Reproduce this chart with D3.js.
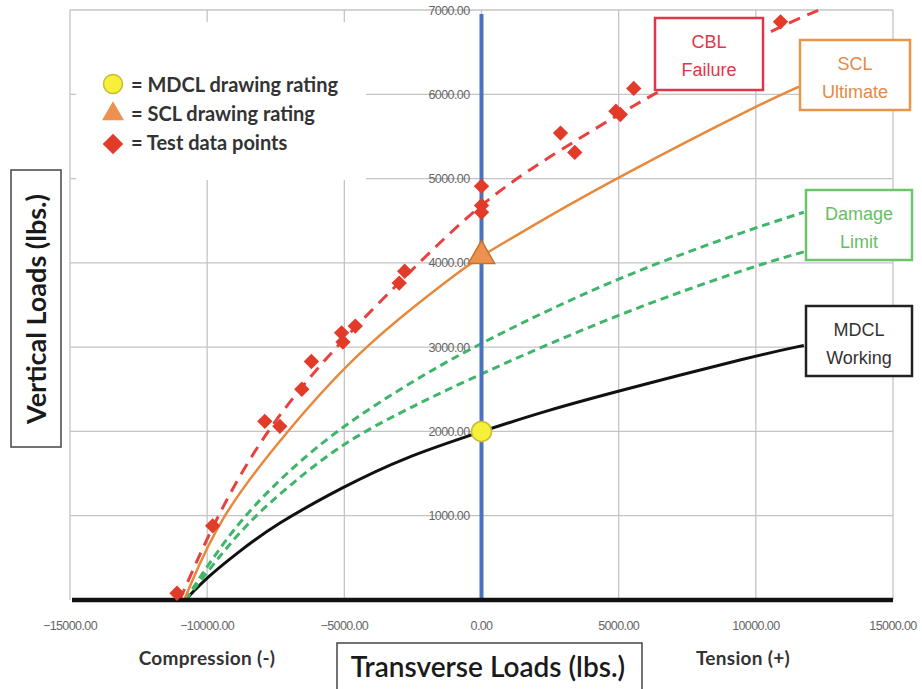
<!DOCTYPE html>
<html><head><meta charset="utf-8">
<script src="https://cdn.jsdelivr.net/npm/d3@7/dist/d3.min.js"></script>
<style>body{margin:0;background:#fff}svg{display:block}</style>
</head><body>
<svg id="c" width="922" height="689"></svg>
<script>
// ---- data ----
const xTicks = [-15000, -10000, -5000, 0, 5000, 10000, 15000];
const yTicks = [1000, 2000, 3000, 4000, 5000, 6000, 7000];

const cblX = [-11000, -9650, -7900, -5500, -2600, 0, 2370, 5000, 6000, 8500, 10850, 12300];
const cblY = [0, 1000, 2000, 2950, 3900, 4720, 5240, 5760, 5950, 6400, 6800, 7000];

const sclX = [-10840, -9540, -7100, -4400, -400, 0, 2370, 5000, 10000, 11580];
const sclY = [0, 1000, 2000, 3000, 4000, 4080, 4540, 5020, 5860, 6090];

const dmgUpX = [-10800, -10000, -8800, -7000, -5000, -2500, 0, 5000, 10000, 11750];
const dmgUpY = [0, 400, 950, 1550, 2080, 2600, 3060, 3840, 4420, 4600];

const dmgLoX = [-10800, -10000, -8600, -7000, -5000, -2500, 0, 5000, 10000, 11750];
const dmgLoY = [0, 330, 900, 1360, 1880, 2300, 2690, 3400, 3970, 4130];

const mdclX = [-10800, -10000, -8900, -7500, -5000, -2900, 0, 2400, 5000, 10000, 11750];
const mdclY = [0, 270, 560, 900, 1350, 1680, 2000, 2250, 2480, 2900, 3020];

const testX = [-11100, -9800, -7900, -7350, -6550, -6200, -5100, -5050, -4600, -3000, -2800, 0, 0, 0, 2880, 3400, 4900, 5060, 5550, 10900];
const testY = [80, 880, 2120, 2060, 2500, 2830, 3170, 3060, 3250, 3760, 3900, 4910, 4680, 4600, 5540, 5310, 5800, 5760, 6070, 6860];

const mdclRating = [0, 2000];
const sclRating = [0, 4060];

const legendLabels = ["= MDCL drawing rating", "= SCL drawing rating", "= Test data points"];
const xTitle = "Transverse Loads (lbs.)";
const yTitle = "Vertical Loads (lbs.)";

// ---- drawing ----
const svg = d3.select("#c");
const x = d3.scaleLinear().domain([-15000, 15000]).range([70, 893]);
const y = d3.scaleLinear().domain([0, 7000]).range([600, 10]);
const gridC = "#c4c4c4";

// gridlines
svg.append("g").selectAll("line").data(yTicks).join("line")
  .attr("x1", x(-15000)).attr("x2", x(15000))
  .attr("y1", d => y(d)).attr("y2", d => y(d))
  .attr("stroke", gridC).attr("stroke-width", 1.3);
svg.append("g").selectAll("line").data(xTicks).join("line")
  .attr("x1", d => x(d)).attr("x2", d => x(d))
  .attr("y1", y(0)).attr("y2", y(7000))
  .attr("stroke", gridC).attr("stroke-width", 1.3);

// legend background (hides gridlines)
svg.append("rect").attr("x", 76).attr("y", 22).attr("width", 290).attr("height", 158).attr("fill", "#fff");

const tickFont = "Liberation Sans, Arial, sans-serif";
// bottom tick labels
svg.append("g").selectAll("text").data(xTicks).join("text")
  .attr("x", d => x(d)).attr("y", 630).attr("text-anchor", "middle")
  .attr("font-family", tickFont).attr("font-size", 12.5)
  .attr("fill", "#666").attr("letter-spacing", -0.6)
  .text(d => d3.format(".2f")(d));

// y tick labels at x = 0
svg.append("g").selectAll("text").data(yTicks).join("text")
  .attr("x", x(0) - 12).attr("y", d => y(d) + 4.5).attr("text-anchor", "end")
  .attr("font-family", tickFont).attr("font-size", 12.5)
  .attr("fill", "#666").attr("letter-spacing", -0.6)
  .text(d => d3.format(".2f")(d));

const line = (xs, ys) => d3.line().curve(d3.curveBasis)(xs.map((v, i) => [x(v), y(ys[i])]));

// curves
svg.append("path").attr("d", line(mdclX, mdclY)).attr("fill", "none").attr("stroke", "#111").attr("stroke-width", 3);
svg.append("path").attr("d", line(dmgLoX, dmgLoY)).attr("fill", "none").attr("stroke", "#3fb56a").attr("stroke-width", 3).attr("stroke-dasharray", "8,5");
svg.append("path").attr("d", line(dmgUpX, dmgUpY)).attr("fill", "none").attr("stroke", "#3fb56a").attr("stroke-width", 3).attr("stroke-dasharray", "8,5");
svg.append("path").attr("d", line(sclX, sclY)).attr("fill", "none").attr("stroke", "#e8883a").attr("stroke-width", 2.5);
svg.append("path").attr("d", line(cblX, cblY)).attr("fill", "none").attr("stroke", "#e8413f").attr("stroke-width", 3).attr("stroke-dasharray", "12,8");

// blue vertical axis line at x=0
svg.append("line").attr("x1", x(0)).attr("x2", x(0)).attr("y1", 14).attr("y2", y(0))
  .attr("stroke", "#4a72c0").attr("stroke-width", 4);

// horizontal axis (thick black)
svg.append("line").attr("x1", x(-15000) + 2).attr("x2", x(15000)).attr("y1", y(0)).attr("y2", y(0))
  .attr("stroke", "#111").attr("stroke-width", 4.5);

// test data points
svg.append("g").selectAll("path").data(testX).join("path")
  .attr("transform", (d, i) => `translate(${x(d)},${y(testY[i])})`)
  .attr("d", d3.symbol(d3.symbolDiamond2, 150)())
  .attr("fill", "#e23b2a");

// rating markers
svg.append("path").attr("transform", `translate(${x(sclRating[0])},${y(sclRating[1]) - 2})`)
  .attr("d", d3.symbol(d3.symbolTriangle, 300)()).attr("fill", "#ec9150").attr("stroke", "#c8702c").attr("stroke-width", 1.5);
svg.append("circle").attr("cx", x(mdclRating[0])).attr("cy", y(mdclRating[1])).attr("r", 10)
  .attr("fill", "#f6f03a").attr("stroke", "#c9bc2e").attr("stroke-width", 1.5);

// legend
const lg = svg.append("g");
lg.append("circle").attr("cx", 113).attr("cy", 84).attr("r", 9.5).attr("fill", "#f6f03a").attr("stroke", "#c9bc2e").attr("stroke-width", 1.5);
lg.append("path").attr("transform", "translate(113,114)").attr("d", d3.symbol(d3.symbolTriangle, 210)()).attr("fill", "#ec9150");
lg.append("path").attr("transform", "translate(113,144)").attr("d", d3.symbol(d3.symbolDiamond2, 270)()).attr("fill", "#e23b2a");
lg.selectAll("text").data(legendLabels).join("text")
  .attr("x", 131).attr("y", (d, i) => 92 + i * 29)
  .attr("font-family", "Lato, sans-serif").attr("font-weight", "bold").attr("font-size", 20)
  .attr("fill", "#333").text(d => d);

// curve label boxes
function box(x0, y0, w, h, col, lines, txtCol) {
  const g = svg.append("g");
  g.append("rect").attr("x", x0).attr("y", y0).attr("width", w).attr("height", h)
    .attr("fill", "#fff").attr("stroke", col).attr("stroke-width", 2.5);
  g.selectAll("text").data(lines).join("text")
    .attr("x", x0 + w / 2).attr("y", (d, i) => y0 + 30 + i * 28).attr("text-anchor", "middle")
    .attr("font-family", "Liberation Sans, Arial, sans-serif").attr("font-size", 18)
    .attr("fill", txtCol || col).text(d => d);
}
box(655, 18, 108, 72, "#e0354a", ["CBL", "Failure"]);
box(800, 40, 110, 70, "#e8954c", ["SCL", "Ultimate"], "#e58a44");
box(806, 190, 106, 70, "#6cc56a", ["Damage", "Limit"], "#66c060");
box(806, 306, 106, 70, "#222", ["MDCL", "Working"], "#333");

// axis side labels
svg.append("text").attr("x", 207).attr("y", 665).attr("text-anchor", "middle")
  .attr("font-family", "Lato, sans-serif").attr("font-weight", "bold").attr("font-size", 19)
  .attr("letter-spacing", 0.3).attr("fill", "#333").text("Compression (-)");
svg.append("text").attr("x", 743).attr("y", 665).attr("text-anchor", "middle")
  .attr("font-family", "Lato, sans-serif").attr("font-weight", "bold").attr("font-size", 19)
  .attr("letter-spacing", 0.3).attr("fill", "#333").text("Tension (+)");

// axis titles in boxes
svg.append("rect").attr("x", 337).attr("y", 643).attr("width", 305).attr("height", 56)
  .attr("fill", "#fff").attr("stroke", "#444").attr("stroke-width", 1.5);
svg.append("text").attr("x", 488).attr("y", 677).attr("text-anchor", "middle")
  .attr("font-family", "Lato, sans-serif").attr("font-size", 28).attr("font-weight", 600)
  .attr("fill", "#1a1a1a").text(xTitle);

svg.append("rect").attr("x", 11).attr("y", 170).attr("width", 50).attr("height", 277)
  .attr("fill", "#fff").attr("stroke", "#444").attr("stroke-width", 1.5);
svg.append("text").attr("transform", "translate(46,309) rotate(-90)").attr("text-anchor", "middle")
  .attr("font-family", "Lato, sans-serif").attr("font-size", 27).attr("font-weight", "bold")
  .attr("fill", "#1a1a1a").text(yTitle);
</script>
</body></html>
